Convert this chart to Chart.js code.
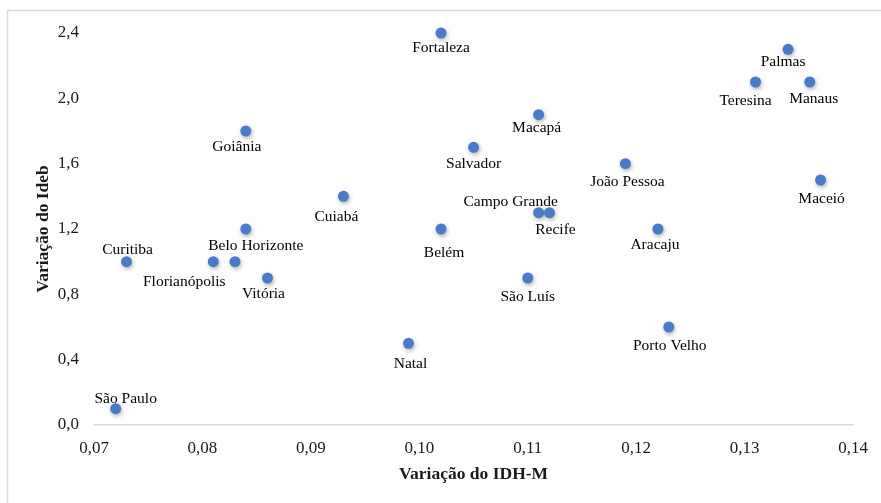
<!DOCTYPE html>
<html>
<head>
<meta charset="utf-8">
<script src="https://cdn.jsdelivr.net/npm/chart.js@4/dist/chart.umd.min.js"></script>
<style>
  html, body { margin: 0; padding: 0; background: #ffffff; }
  #wrap { position: relative; width: 881px; height: 503px; }
</style>
</head>
<body>
<div id="wrap"><canvas id="c" width="881" height="503"></canvas></div>
<script>
// ---- data ----
const cities = ["Fortaleza","Macapá","Salvador","Cuiabá","Campo Grande","Recife","Belém","Palmas","Teresina","Manaus","João Pessoa","Maceió","Aracaju","Goiânia","Belo Horizonte","Curitiba","Florianópolis","","Vitória","São Luís","Natal","Porto Velho","São Paulo"];
const idhVariation = [0.102,0.111,0.105,0.093,0.111,0.112,0.102,0.134,0.131,0.136,0.119,0.137,0.122,0.084,0.084,0.073,0.081,0.083,0.086,0.110,0.099,0.123,0.072];
const idebVariation = [2.4,1.9,1.7,1.4,1.3,1.3,1.2,2.3,2.1,2.1,1.6,1.5,1.2,1.8,1.2,1.0,1.0,1.0,0.9,0.9,0.5,0.6,0.1];
const xTickValues = [0.07,0.08,0.09,0.10,0.11,0.12,0.13,0.14];
const yTickValues = [0.0,0.4,0.8,1.2,1.6,2.0,2.4];
const xTitle = "Variação do IDH-M";
const yTitle = "Variação do Ideb";

// label placement offsets (pixels, relative to the point)
const labelOffsets = [[0,15],[-2,13],[0,17],[-7,21],[-28,-11],[6,17],[3,24],[-5,13],[-10,19],[4,17],[2,18],[1,19],[-3,16],[-9,16],[10,17],[1,-12],[-29,20],[0,0],[-4,16],[0,19],[2,21],[1,19],[10,-10]];

const points = idhVariation.map((x, i) => ({ x: x, y: idebVariation[i] }));
const serif = "'Liberation Serif', 'Times New Roman', serif";

const frame = {
  id: 'frame',
  beforeDraw(chart) {
    const ctx = chart.ctx;
    ctx.save();
    ctx.fillStyle = '#ffffff';
    ctx.fillRect(0, 0, chart.width, chart.height);
    ctx.strokeStyle = '#d9d9d9';
    ctx.lineWidth = 1.5;
    ctx.strokeRect(7.5, 10.5, 900, 520);
    ctx.restore();
  }
};

const shadow = {
  id: 'shadow',
  beforeDatasetsDraw(chart) {
    const ctx = chart.ctx;
    ctx.save();
    ctx.shadowColor = 'rgba(0,0,0,0.3)';
    ctx.shadowBlur = 4;
    ctx.shadowOffsetX = 1;
    ctx.shadowOffsetY = 2;
  },
  afterDatasetsDraw(chart) {
    chart.ctx.restore();
  }
};

const labels = {
  id: 'pointLabels',
  afterDatasetsDraw(chart) {
    const ctx = chart.ctx;
    const meta = chart.getDatasetMeta(0);
    ctx.save();
    ctx.font = "15.5px " + serif;
    ctx.fillStyle = '#000000';
    ctx.textAlign = 'center';
    ctx.textBaseline = 'middle';
    meta.data.forEach((el, i) => {
      const t = cities[i];
      if (!t) return;
      const off = labelOffsets[i];
      ctx.fillText(t, el.x + off[0], el.y + off[1]);
    });
    ctx.restore();
  }
};

new Chart(document.getElementById('c'), {
  type: 'scatter',
  data: {
    datasets: [{
      label: 'Capitais',
      data: points,
      backgroundColor: '#4A7BC8',
      borderColor: '#4A7BC8',
      borderWidth: 0,
      pointRadius: 5.5,
      pointHoverRadius: 5.5,
      clip: false
    }]
  },
  options: {
    responsive: false,
    animation: false,
    events: [],
    layout: { padding: { left: 0, top: 33, right: 27, bottom: 0 } },
    plugins: {
      legend: { display: false },
      tooltip: { enabled: false }
    },
    scales: {
      x: {
        type: 'linear',
        min: xTickValues[0],
        max: xTickValues[xTickValues.length - 1],
        afterFit(scale) { scale.height = 78; },
        afterBuildTicks(scale) { scale.ticks = xTickValues.map(v => ({ value: v })); },
        grid: { display: false, drawTicks: false },
        border: { display: true, color: '#d9d9d9', width: 1.5 },
        ticks: {
          padding: 13,
          color: '#1a1a1a',
          font: { family: serif, size: 17 },
          maxRotation: 0,
          callback: v => v.toFixed(2).replace('.', ',')
        },
        title: {
          display: true,
          text: xTitle,
          color: '#1a1a1a',
          font: { family: serif, size: 17.5, weight: 'bold' },
          padding: { top: 0, bottom: 18.5 }
        }
      },
      y: {
        type: 'linear',
        min: yTickValues[0],
        max: yTickValues[yTickValues.length - 1],
        afterFit(scale) { scale.width = 94; },
        afterBuildTicks(scale) { scale.ticks = yTickValues.map(v => ({ value: v })); },
        grid: { display: false, drawTicks: false },
        border: { display: false },
        ticks: {
          padding: 15,
          color: '#1a1a1a',
          font: { family: serif, size: 17 },
          callback: v => v.toFixed(1).replace('.', ',')
        },
        title: {
          display: true,
          text: yTitle,
          color: '#1a1a1a',
          font: { family: serif, size: 17.5, weight: 'bold' },
          padding: { top: 32.5, bottom: 0 }
        }
      }
    }
  },
  plugins: [frame, shadow, labels]
});
</script>
</body>
</html>
